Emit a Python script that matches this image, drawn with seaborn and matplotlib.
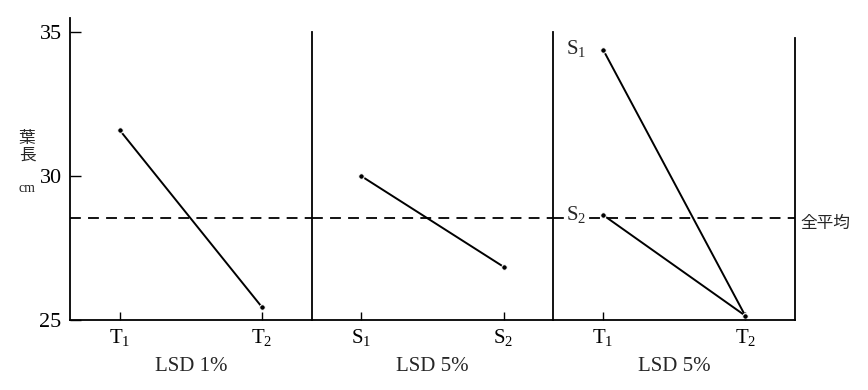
import matplotlib
matplotlib.use("Agg")
import matplotlib.pyplot as plt
import seaborn as sns
import pandas as pd

# values (leaf length, cm)
t_labels = ["T$_1$", "T$_2$"]
s_labels = ["S$_1$", "S$_2$"]
t_means = [31.6, 25.45]          # panel 1, LSD 1%
s_means = [30.0, 26.85]          # panel 2, LSD 5%
s1_by_t = [34.4, 25.15]          # panel 3, S1 line
s2_by_t = [28.65, 25.15]         # panel 3, S2 line
grand_mean = 28.55
panel_titles = ["LSD 1%", "LSD 5%", "LSD 5%"]

sns.set_style("white")
plt.rcParams["font.family"] = ["Liberation Serif", "Noto Sans CJK JP", "DejaVu Sans"]
plt.rcParams["mathtext.fontset"] = "custom"
plt.rcParams["mathtext.rm"] = "Liberation Serif"

fig = plt.figure(figsize=(8.68, 3.9), dpi=100)
left, right, bottom, top = 70 / 868, 795 / 868, 1 - 320 / 390, 1 - 18 / 390
pw = (right - left) / 3
axes = [fig.add_axes([left + i * pw, bottom, pw, top - bottom]) for i in range(3)]

df1 = pd.DataFrame({"x": [0, 1], "y": t_means})
df2 = pd.DataFrame({"x": [0, 1], "y": s_means})
df3 = pd.DataFrame({"x": [0, 1, 0, 1], "y": s1_by_t + s2_by_t,
                    "S": ["S1", "S1", "S2", "S2"]})

sns.lineplot(data=df1, x="x", y="y", ax=axes[0], color="black", lw=1.4,
             marker="o", markersize=4)
sns.lineplot(data=df2, x="x", y="y", ax=axes[1], color="black", lw=1.4,
             marker="o", markersize=4)
sns.lineplot(data=df3, x="x", y="y", hue="S", palette=["black", "black"],
             ax=axes[2], lw=1.4, marker="o", markersize=4, legend=False)

xtick_sets = [t_labels, s_labels, t_labels]
for i, ax in enumerate(axes):
    ax.set_xlim(-0.35, 1.35)
    ax.set_ylim(25, 35.5)
    ax.axhline(grand_mean, color="black", ls=(0, (6, 4)), lw=1.3)
    ax.set_xticks([0, 1])
    ax.set_xticklabels(xtick_sets[i], fontsize=15)
    ax.set_xlabel(panel_titles[i], fontsize=15, labelpad=6)
    ax.set_ylabel("")
    for sp in ["top", "right"]:
        ax.spines[sp].set_visible(False)
    for sp in ax.spines.values():
        sp.set_color("black")
        sp.set_linewidth(1.3)
    ax.tick_params(axis="x", bottom=True, direction="in", length=6, width=1,
                   colors="black", pad=5)
    if i == 0:
        ax.set_yticks([25, 30, 35])
        ax.set_yticklabels(["25", "30", "35"], fontsize=16)
        ax.tick_params(axis="y", left=True, direction="in", length=8, width=1,
                       colors="black", pad=6)
    else:
        ax.set_yticks([])
        ax.spines["left"].set_bounds(25, 35.0)

axes[2].spines["right"].set_visible(True)
axes[2].spines["right"].set_bounds(25, 34.8)

axes[2].text(-0.12, s1_by_t[0], "S$_1$", fontsize=15, ha="right", va="center")
axes[2].text(-0.12, s2_by_t[0], "S$_2$", fontsize=15, ha="right", va="center",
             bbox=dict(facecolor="white", edgecolor="none", pad=1))
axes[2].text(1.39, grand_mean - 0.2, "全平均", fontsize=12, ha="left", va="center",
             family=["Noto Sans CJK JP"], clip_on=False)

fig.text(27 / 868, 1 - 147 / 390, "葉\n長", fontsize=12, ha="center", va="center",
         family=["Noto Sans CJK JP"], linespacing=1.0)
fig.text(27 / 868, 1 - 188 / 390, "cm", fontsize=10, ha="center", va="center")

fig.savefig("out.png", dpi=100)
